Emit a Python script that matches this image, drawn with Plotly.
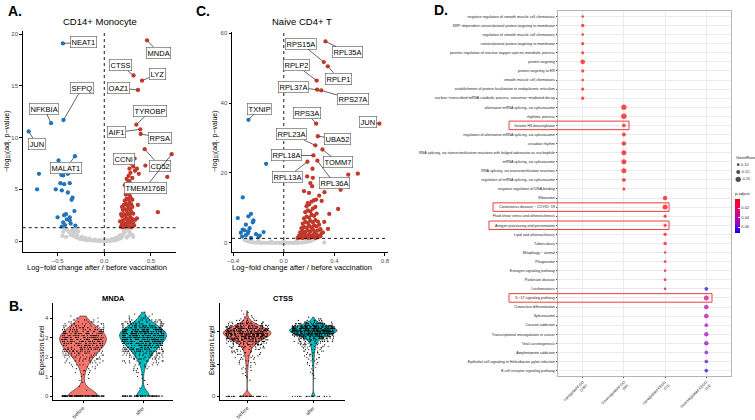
import numpy as np
import plotly.graph_objects as go

W, H = 755, 420
FONT = "Liberation Sans, Arial, sans-serif"
RED, BLUE, GREY = "#C0392B", "#1F74BA", "#CFCFCF"

# ---------------- A. CD14+ Monocyte (log-fold change, -log10 adj p) ----------------
a_grey = [(-0.30, 0.35), (-0.27, 0.25), (-0.25, 0.2), (-0.22, 0.15), (-0.2, 0.12), (-0.18, 0.1),
          (-0.15, 0.08), (-0.12, 0.05), (-0.1, 0.04), (-0.07, 0.03), (-0.05, 0.02), (-0.03, 0.01),
          (0.0, 0.0), (0.02, 0.01), (0.05, 0.02), (0.07, 0.04), (0.1, 0.06), (0.12, 0.1),
          (0.14, 0.15), (0.16, 0.22), (0.18, 0.3), (-0.33, 0.5), (-0.34, 0.7), (-0.32, 0.85),
          (-0.35, 1.0), (-0.33, 1.15), (-0.31, 1.25), (-0.36, 0.6), (-0.38, 0.9), (-0.4, 1.1),
          (-0.42, 1.2), (-0.44, 0.9), (-0.45, 0.5), (-0.41, 0.4), (-0.29, 0.6), (-0.28, 0.95),
          (-0.30, 1.1), (0.19, 0.45), (0.2, 0.65), (0.22, 0.8), (0.21, 1.0), (0.23, 1.2),
          (0.25, 1.1), (0.27, 0.9), (0.29, 1.25), (0.3, 0.6), (0.31, 0.4), (0.26, 0.5),
          (0.24, 0.35), (0.28, 0.7), (0.17, 0.55), (0.2, 1.25), (0.24, 1.28), (-0.24, 0.4),
          (-0.2, 0.3), (-0.16, 0.25), (0.08, 0.2), (0.12, 0.3), (0.15, 0.4), (-0.1, 0.15),
          (0.0, 0.12), (-0.05, 0.1), (0.04, 0.1)]
a_down = [(-0.49, 7.8), (-0.70, 6.5), (-0.72, 5.0), (-0.46, 6.4), (-0.44, 6.35), (-0.39, 6.5),
          (-0.47, 5.6), (-0.43, 5.5), (-0.37, 5.6), (-0.52, 5.0), (-0.455, 4.9), (-0.39, 4.7),
          (-0.34, 4.2), (-0.35, 4.0), (-0.41, 2.6), (-0.43, 2.5), (-0.37, 2.3), (-0.5, 2.3),
          (-0.32, 2.9), (-0.44, 1.8), (-0.37, 2.0), (-0.455, 1.4), (-0.31, 1.5), (-0.40, 2.1),
          (-0.36, 1.7), (-0.42, 1.55)]
a_up = [(0.18, 1.4), (0.2, 1.35), (0.22, 1.4), (0.24, 1.45), (0.26, 1.4), (0.28, 1.38), (0.3, 1.42),
        (0.32, 1.5), (0.19, 1.6), (0.21, 1.7), (0.23, 1.65), (0.25, 1.8), (0.27, 1.75), (0.29, 1.9),
        (0.31, 1.7), (0.2, 2.0), (0.22, 2.1), (0.24, 2.2), (0.26, 2.0), (0.28, 2.3), (0.3, 2.15),
        (0.33, 2.05), (0.19, 2.4), (0.21, 2.6), (0.23, 2.5), (0.25, 2.7), (0.27, 2.55), (0.29, 2.8),
        (0.31, 2.65), (0.2, 3.0), (0.22, 3.1), (0.24, 2.95), (0.26, 3.2), (0.28, 3.05), (0.3, 3.3),
        (0.21, 3.5), (0.23, 3.6), (0.25, 3.45), (0.27, 3.7), (0.29, 3.55), (0.22, 3.9), (0.24, 4.1),
        (0.26, 4.0), (0.28, 4.25), (0.3, 4.0), (0.23, 4.5), (0.25, 4.6), (0.27, 4.45), (0.29, 4.8),
        (0.24, 5.0), (0.26, 5.2), (0.28, 5.05), (0.22, 5.4), (0.25, 5.6), (0.27, 5.8), (0.29, 5.5),
        (0.24, 6.0), (0.26, 6.3), (0.3, 6.1), (0.28, 6.6), (0.33, 6.8), (0.37, 6.5), (0.31, 7.2),
        (0.35, 7.0), (0.27, 7.0), (0.29, 7.5), (0.44, 7.3), (0.675, 6.2), (0.574, 2.8), (0.4, 5.3),
        (0.42, 4.9), (0.36, 3.5), (0.35, 2.2), (0.17, 1.9), (0.18, 2.6), (0.19, 3.3)]
a_genes = ["NEAT1", "SFPQ", "NFKBIA", "JUN", "MALAT1", "MNDA", "CTSS", "LYZ", "OAZ1",
           "TYROBP", "AIF1", "RPSA", "CCNI", "CD52", "TMEM176B"]
a_lfc = [-0.444, -0.437, -0.57, -0.81, -0.314, 0.458, 0.314, 0.404, 0.361, 0.343, 0.386, 0.39,
         0.325, 0.433, 0.722]
a_logp = [19.1, 11.7, 11.4, 10.6, 8.2, 19.4, 16.0, 15.5, 14.6, 11.25, 10.8, 10.35, 7.98, 8.88, 8.4]
# where the repelled label boxes sit (data units)
a_label_pos = [(-0.22, 19.2), (-0.238, 14.8), (-0.643, 12.8), (-0.726, 9.4), (-0.408, 7.1),
               (0.585, 18.2), (0.177, 17.0), (0.567, 16.15), (0.152, 14.8), (0.495, 12.55),
               (0.134, 10.5), (0.596, 10.0), (0.213, 7.9), (0.592, 7.3), (0.44, 5.15)]

# ---------------- C. Naive CD4+ T ----------------
c_grey = [(-0.31, 0.8), (-0.29, 0.5), (-0.27, 0.3), (-0.25, 0.2), (-0.23, 0.1), (-0.21, 0.1),
          (-0.19, 0.05), (-0.17, 0.05), (-0.15, 0.03), (-0.13, 0.02), (-0.11, 0.02), (-0.09, 0.01),
          (-0.07, 0.01), (-0.05, 0.0), (-0.03, 0.0), (-0.01, 0.0), (0.01, 0.0), (0.03, 0.01),
          (0.05, 0.01), (0.07, 0.02), (0.09, 0.03), (0.11, 0.05), (0.13, 0.08), (0.15, 0.1),
          (0.17, 0.2), (0.19, 0.3), (0.21, 0.5), (0.23, 0.8), (0.24, 1.1), (-0.3, 1.1), (-0.2, 0.6),
          (-0.1, 0.4), (0.0, 0.3), (0.1, 0.5), (0.18, 0.9), (-0.26, 0.9), (0.32, 0.1)]
c_down = [(-0.14, 22.6), (-0.325, 13.0), (-0.364, 7.1), (-0.26, 8.3), (-0.28, 7.6), (-0.24, 6.4),
          (-0.245, 5.9), (-0.30, 5.2), (-0.325, 3.8), (-0.31, 3.6), (-0.28, 3.3), (-0.285, 2.7),
          (-0.19, 2.1), (-0.16, 3.1), (-0.34, 2.9), (-0.2, 1.7), (-0.26, 1.4), (-0.30, 2.2),
          (-0.33, 1.8), (-0.27, 4.2), (-0.22, 2.5)]
c_up = [(0.11, 1.4), (0.13, 1.5), (0.15, 1.4), (0.17, 1.6), (0.19, 1.45), (0.21, 1.5), (0.23, 1.7),
        (0.25, 1.4), (0.27, 1.6), (0.12, 2.0), (0.14, 2.2), (0.16, 2.5), (0.18, 2.1), (0.2, 2.4),
        (0.22, 2.0), (0.24, 2.6), (0.26, 2.3), (0.28, 2.1), (0.3, 2.8), (0.13, 3.0), (0.15, 3.4),
        (0.17, 3.1), (0.19, 3.6), (0.21, 3.2), (0.23, 3.8), (0.25, 3.3), (0.27, 3.5), (0.29, 3.9),
        (0.14, 4.2), (0.16, 4.6), (0.18, 4.3), (0.2, 4.9), (0.22, 4.4), (0.24, 5.0), (0.26, 4.7),
        (0.28, 5.2), (0.35, 4.0), (0.15, 5.5), (0.17, 6.0), (0.19, 5.7), (0.21, 6.3), (0.23, 5.9),
        (0.25, 6.5), (0.27, 6.1), (0.16, 7.0), (0.18, 7.5), (0.2, 7.2), (0.22, 8.0), (0.24, 7.7),
        (0.26, 8.4), (0.36, 8.3), (0.17, 8.8), (0.19, 9.3), (0.21, 9.0), (0.23, 9.8), (0.25, 10.3),
        (0.43, 9.7), (0.18, 10.5), (0.2, 11.0), (0.19, 11.4), (0.22, 11.8), (0.24, 12.2),
        (0.256, 12.4), (0.28, 13.5), (0.30, 12.0), (0.2, 14.3), (0.16, 14.8), (0.322, 14.5),
        (0.45, 15.2), (0.224, 16.2), (0.21, 17.1), (0.23, 18.6), (0.185, 19.0), (0.227, 21.2),
        (0.51, 19.5), (0.586, 19.8), (0.14, 1.8), (0.29, 1.9), (0.31, 3.0), (0.32, 6.0)]
c_genes = ["RPS15A", "RPL35A", "RPLP2", "RPLP1", "RPL37A", "RPS27A", "TXNIP", "RPS3A", "JUN",
           "RPL23A", "UBA52", "RPL18A", "TOMM7", "RPL13A", "RPL36A"]
c_lfc = [0.317, 0.33, 0.26, 0.348, 0.264, 0.296, -0.28, 0.256, 0.757, 0.25, 0.27, 0.235, 0.306,
         0.187, 0.266]
c_logp = [51.7, 57.6, 46.4, 50.5, 43.8, 43.6, 35.2, 34.1, 34.1, 27.9, 30.5, 25.0, 26.7, 23.2, 23.5]
c_label_pos = [(0.137, 57.0), (0.507, 54.5), (0.098, 50.8), (0.433, 47.0), (0.077, 44.6),
               (0.546, 41.0), (-0.193, 38.4), (0.182, 37.2), (0.665, 34.6), (0.063, 31.0),
               (0.427, 29.7), (0.018, 25.0), (0.433, 23.1), (0.032, 18.9), (0.40, 17.0)]

# ---------------- B. expression levels (cells per 0.1 bin) ----------------
mnda_levels = [0.0, 0.1, 0.2, 0.3, 0.4, 0.5, 0.6, 0.7, 0.8, 0.9, 1.0, 1.1, 1.2, 1.3, 1.4, 1.5,
               1.6, 1.7, 1.8, 1.9, 2.0, 2.1, 2.2, 2.3, 2.4, 2.5, 2.6, 2.7, 2.8, 2.9, 3.0, 3.1,
               3.2, 3.3, 3.4, 3.5, 3.6, 3.7, 3.8, 3.9, 4.0, 4.1, 4.2, 4.3, 4.4]
mnda_before = [115, 0, 0, 1, 0, 1, 0, 1, 1, 1, 1, 2, 2, 3, 3, 4, 5, 6, 8, 9, 11, 13, 15, 17, 19,
               21, 23, 25, 27, 28, 28, 27, 25, 22, 19, 16, 13, 10, 7, 5, 3, 1, 0, 0, 0]
mnda_after = [75, 0, 0, 0, 1, 0, 1, 0, 1, 1, 1, 1, 2, 2, 3, 4, 5, 7, 9, 11, 13, 16, 19, 22, 25,
              28, 32, 36, 40, 44, 48, 50, 50, 47, 42, 35, 28, 21, 15, 10, 7, 4, 2, 1, 0]
ctss_levels = [0.0, 0.1, 0.2, 0.3, 0.4, 0.5, 0.6, 0.7, 0.8, 0.9, 1.0, 1.1, 1.2, 1.3, 1.4, 1.5,
               1.6, 1.7, 1.8, 1.9, 2.0, 2.1, 2.2, 2.3, 2.4, 2.5, 2.6, 2.7, 2.8, 2.9, 3.0, 3.1,
               3.2, 3.3, 3.4, 3.5, 3.6, 3.7, 3.8, 3.9, 4.0, 4.1, 4.2, 4.3, 4.4, 4.5, 4.6, 4.7,
               4.8, 4.9, 5.0, 5.1, 5.2, 5.3, 5.4]
ctss_before = [40, 0, 0, 0, 0, 0, 0, 0, 0, 0, 1, 0, 1, 1, 1, 1, 1, 2, 2, 2, 2, 3, 3, 3, 4, 4, 5,
               6, 7, 8, 10, 12, 15, 19, 24, 30, 37, 44, 50, 53, 52, 47, 40, 31, 23, 16, 10, 6, 3,
               2, 1, 1, 1, 1, 0]
ctss_after = [20, 0, 0, 0, 0, 0, 0, 0, 0, 0, 0, 1, 0, 1, 1, 1, 1, 1, 1, 2, 2, 2, 2, 3, 3, 3, 4,
              4, 5, 5, 6, 7, 8, 10, 13, 17, 23, 33, 48, 65, 78, 82, 75, 58, 38, 22, 12, 6, 3, 1,
              0, 0, 0, 0, 0]
conditions = ["before", "after"]

# ---------------- D. enrichment dot plot ----------------
col_labels = ["Upregulated GO<br>(150)", "Downregulated GO<br>(50)",
              "Upregulated KEGG<br>(73)", "Downregulated KEGG<br>(14)"]
up_go_terms = ["negative regulation of smooth muscle cell chemotaxis",
               "SRP−dependent cotranslational protein targeting to membrane",
               "regulation of smooth muscle cell chemotaxis",
               "cotranslational protein targeting to membrane",
               "positive regulation of reactive oxygen species metabolic process",
               "protein targeting", "protein targeting to ER", "smooth muscle cell chemotaxis",
               "establishment of protein localization to endoplasmic reticulum",
               "nuclear−transcribed mRNA catabolic process, nonsense−mediated decay"]
up_go_ratio = [0.06, 0.13, 0.06, 0.12, 0.12, 0.18, 0.12, 0.06, 0.12, 0.12]
up_go_padj = [0.004, 0.0005, 0.004, 0.0008, 0.002, 0.0003, 0.0009, 0.005, 0.0009, 0.001]
down_go_terms = ["alternative mRNA splicing, via spliceosome", "rhythmic process",
                 "histone H3 deacetylation",
                 "regulation of alternative mRNA splicing, via spliceosome", "circadian rhythm",
                 "RNA splicing, via transesterification reactions with bulged adenosine as nucleophile",
                 "mRNA splicing, via spliceosome", "RNA splicing, via transesterification reactions",
                 "regulation of mRNA splicing, via spliceosome", "negative regulation of DNA binding"]
down_go_ratio = [0.20, 0.21, 0.14, 0.15, 0.17, 0.19, 0.19, 0.19, 0.15, 0.12]
down_go_padj = [0.002, 0.002, 0.003, 0.003, 0.002, 0.001, 0.001, 0.001, 0.003, 0.004]
up_kegg_terms = ["Ribosome", "Coronavirus disease − COVID−19",
                 "Fluid shear stress and atherosclerosis", "Antigen processing and presentation",
                 "Lipid and atherosclerosis", "Tuberculosis", "Mitophagy − animal", "Phagosome",
                 "Estrogen signaling pathway", "Parkinson disease", "Leishmaniasis"]
up_kegg_ratio = [0.17, 0.19, 0.12, 0.12, 0.13, 0.13, 0.09, 0.11, 0.10, 0.11, 0.05]
up_kegg_padj = [0.001, 0.001, 0.003, 0.004, 0.004, 0.005, 0.009, 0.012, 0.016, 0.018, 0.045]
down_kegg_terms = ["Leishmaniasis", "IL−17 signaling pathway", "Osteoclast differentiation",
                   "Spliceosome", "Cocaine addiction", "Transcriptional misregulation in cancer",
                   "Viral carcinogenesis", "Amphetamine addiction",
                   "Epithelial cell signaling in Helicobacter pylori infection",
                   "B cell receptor signaling pathway"]
down_kegg_ratio = [0.14, 0.19, 0.18, 0.18, 0.14, 0.17, 0.17, 0.14, 0.14, 0.14]
down_kegg_padj = [0.070, 0.032, 0.040, 0.042, 0.052, 0.050, 0.052, 0.055, 0.060, 0.068]
ratio_breaks = [0.10, 0.15, 0.20]
padj_breaks = [0.02, 0.04, 0.06]
highlight_terms = ["histone H3 deacetylation", "Coronavirus disease − COVID−19",
                   "Antigen processing and presentation", "IL−17 signaling pathway"]
highlight_span = [(509, 629), (493, 669), (489, 669), (509, 712)]  # px, label + dot

SIZEREF = 0.038


def px(x):
    return x / W


def py(y):
    return 1 - y / H


def note(text, x, y, size, bold=False, xanchor="center", yanchor="middle", angle=0,
         color="black"):
    return dict(text="<b>%s</b>" % text if bold else text, x=px(x), y=py(y), xref="paper",
                yref="paper", showarrow=False, xanchor=xanchor, yanchor=yanchor,
                textangle=angle, font=dict(size=size, color=color, family=FONT))


def add_volcano(fig, xa, ya, grey, down, up, lfc, logp):
    for pts, col in [(grey, GREY), (down, BLUE), (up, RED)]:
        x, y = zip(*pts)
        fig.add_trace(go.Scatter(x=x, y=y, mode="markers", xaxis=xa, yaxis=ya,
                                 marker=dict(size=4.3, color=col, line=dict(width=0)),
                                 hoverinfo="skip"))
    fig.add_trace(go.Scatter(x=lfc, y=logp, mode="markers", xaxis=xa, yaxis=ya,
                             marker=dict(size=4.3, line=dict(width=0),
                                         color=[RED if v > 0 else BLUE for v in lfc]),
                             hoverinfo="skip"))


def gene_labels(xa, ya, genes, lfc, logp, pos):
    out = []
    for g, x, y, (lx, ly) in zip(genes, lfc, logp, pos):
        out.append(dict(x=x, y=y, xref=xa, yref=ya, ax=lx, ay=ly, axref=xa, ayref=ya, text=g,
                        showarrow=True, arrowhead=0, arrowwidth=0.7, arrowcolor="#222",
                        standoff=1.5, font=dict(size=7.5, color="black", family=FONT),
                        bgcolor="white", bordercolor="#555", borderwidth=0.6, borderpad=1))
    return out


def thresholds(xa, ya):
    dot = dict(color="black", width=0.9, dash="dot")
    return [dict(type="line", xref=xa + " domain", x0=0, x1=1, yref=ya, y0=1.3, y1=1.3, line=dot),
            dict(type="line", xref=xa, x0=0, x1=0, yref=ya + " domain", y0=0, y1=1, line=dot)]


fig = go.Figure()

add_volcano(fig, "x", "y", a_grey, a_down, a_up, a_lfc, a_logp)
add_volcano(fig, "x2", "y2", c_grey, c_down, c_up, c_lfc, c_logp)

# violins (per-condition kernel bandwidth)
violins = [("x3", "y3", mnda_levels, (mnda_before, mnda_after), (0.3, 0.25), 0.78),
           ("x4", "y4", ctss_levels, (ctss_before, ctss_after), (0.17, 0.15), 0.72)]
for xa, ya, levels, counts, bws, width in violins:
    for cond, cnt, bw, col in zip(conditions, counts, bws, ["#F8766D", "#00BFC4"]):
        vals = np.repeat(levels, cnt)
        fig.add_trace(go.Violin(x=[cond] * len(vals), y=vals, xaxis=xa, yaxis=ya,
                                fillcolor=col, line=dict(color="black", width=0.5), opacity=1,
                                points="all", pointpos=0, jitter=0.9,
                                marker=dict(size=1.2, color="black", line=dict(width=0)),
                                spanmode="hard", bandwidth=bw, width=width, scalemode="width",
                                hoverinfo="skip"))

# dot plot
groups = [(up_go_terms, up_go_ratio, up_go_padj), (down_go_terms, down_go_ratio, down_go_padj),
          (up_kegg_terms, up_kegg_ratio, up_kegg_padj), (down_kegg_terms, down_kegg_ratio, down_kegg_padj)]
d_x, d_y, d_r, d_p = [], [], [], []
for col, (terms, ratio, padj) in zip(col_labels, groups):
    d_x += [col] * len(terms)
    d_y += terms
    d_r += ratio
    d_p += padj
term_order = []
for t in d_y:
    if t not in term_order:
        term_order.append(t)

scale = [[0, "#0000FF"], [0.25, "#8F00D0"], [0.5, "#C7009F"], [0.75, "#EE0060"], [1, "#FF0000"]]
fig.add_trace(go.Scatter(
    x=d_x, y=d_y, mode="markers", xaxis="x5", yaxis="y5", hoverinfo="skip",
    marker=dict(size=d_r, sizemode="diameter", sizeref=SIZEREF, sizemin=1.3, line=dict(width=0),
                color=[-p for p in d_p], colorscale=scale, cmin=-0.0726, cmax=-0.001,
                colorbar=dict(x=px(735), xanchor="left", y=py(189), yanchor="top",
                              len=44, lenmode="pixels", thickness=5, xpad=0, ypad=0,
                              outlinewidth=0, ticks="inside", ticklen=2, tickcolor="white",
                              tickvals=[-b for b in padj_breaks],
                              ticktext=["%.2f" % b for b in padj_breaks],
                              tickfont=dict(size=4, color="#333", family=FONT),
                              title=dict(text="p.adjust", side="top",
                                         font=dict(size=4.2, color="#222", family=FONT))))))

# size legend
fig.add_trace(go.Scatter(
    x=[0.2] * len(ratio_breaks), y=["%.2f" % b for b in ratio_breaks], mode="markers+text",
    xaxis="x6", yaxis="y6", text=["%.2f" % b for b in ratio_breaks], textposition="middle right",
    textfont=dict(size=4, color="#333", family=FONT), hoverinfo="skip",
    marker=dict(size=[b / SIZEREF for b in ratio_breaks], color="black", line=dict(width=0))))

axis = dict(showline=True, linecolor="black", linewidth=1, ticks="outside", ticklen=2.5,
            tickwidth=0.8, tickcolor="black", showgrid=False, zeroline=False, automargin=False,
            tickfont=dict(size=6, color="#4D4D4D", family=FONT))
d_axis = dict(showline=True, linecolor="#B5B5B5", linewidth=0.8, mirror=True, ticks="outside",
              ticklen=1.5, tickwidth=0.5, tickcolor="#444", showgrid=True, gridcolor="#EBEBEB",
              gridwidth=0.5, zeroline=False, automargin=False, type="category",
              tickfont=dict(size=3.7, color="#222", family=FONT))
b_ticks = dict(size=5.2, color="#333", family=FONT)

fig.update_layout(
    width=W, height=H, margin=dict(l=0, r=0, t=0, b=0), template="none",
    paper_bgcolor="white", plot_bgcolor="white", showlegend=False, violinmode="overlay",
    font=dict(family=FONT),
    xaxis=dict(axis, domain=[px(22.7), px(175.5)], range=[-0.874, 0.763], anchor="y",
               tickvals=[-0.5, 0, 0.5], ticktext=["−0.5", "0.0", "0.5"]),
    yaxis=dict(axis, domain=[py(252), py(31)], range=[-1.05, 20.3], anchor="x",
               tickvals=[0, 5, 10, 15, 20]),
    xaxis2=dict(axis, domain=[px(232), px(388)], range=[-0.41, 0.825], anchor="y2",
                tickvals=[-0.4, 0, 0.4, 0.8], ticktext=["−0.4", "0.0", "0.4", "0.8"]),
    yaxis2=dict(axis, domain=[py(252), py(32)], range=[-2.6, 60.3], anchor="x2",
                tickvals=[0, 20, 40, 60]),
    xaxis3=dict(axis, domain=[px(53), px(173)], range=[-0.5, 1.5], anchor="y3", type="category",
                categoryorder="array", categoryarray=conditions, tickangle=-45, ticklen=2,
                tickfont=b_ticks),
    yaxis3=dict(axis, domain=[py(400), py(303)], range=[-0.205, 4.77], anchor="x3",
                tickvals=[0, 1, 2, 3, 4]),
    xaxis4=dict(axis, domain=[px(220), px(345)], range=[-0.41, 1.48], anchor="y4", type="category",
                categoryorder="array", categoryarray=conditions, tickangle=-45, ticklen=2,
                tickfont=b_ticks),
    yaxis4=dict(axis, domain=[py(400), py(303)], range=[-0.23, 5.78], anchor="x4",
                tickvals=[0, 2, 4]),
    xaxis5=dict(d_axis, domain=[px(558), px(731)], range=[-0.6, 3.6], anchor="y5",
                categoryorder="array", categoryarray=col_labels, tickangle=-45),
    yaxis5=dict(d_axis, domain=[py(376), py(11)], range=[len(term_order) - 0.4, -0.6],
                anchor="x5", categoryorder="array", categoryarray=term_order),
    xaxis6=dict(domain=[px(734), px(755)], range=[0, 1], visible=False, anchor="y6"),
    yaxis6=dict(domain=[py(183), py(161)], range=[2.5, -0.5], visible=False, anchor="x6",
                type="category"),
)

shapes = thresholds("x", "y") + thresholds("x2", "y2")
for term, (x0, x1) in zip(highlight_terms, highlight_span):
    i = term_order.index(term)
    shapes.append(dict(type="rect", xref="paper", x0=px(x0), x1=px(x1), yref="y5",
                       y0=i - 0.47, y1=i + 0.47, line=dict(color="#F03C3C", width=1)))
fig.update_layout(shapes=shapes)

ann = gene_labels("x", "y", a_genes, a_lfc, a_logp, a_label_pos)
ann += gene_labels("x2", "y2", c_genes, c_lfc, c_logp, c_label_pos)
ann += [
    note("A.", 6, 11, 14, bold=True, xanchor="left"),
    note("C.", 194, 11, 14, bold=True, xanchor="left"),
    note("B.", 7, 306, 14, bold=True, xanchor="left"),
    note("D.", 432, 10, 14, bold=True, xanchor="left"),
    note("CD14+ Monocyte", 100, 21, 9.5),
    note("Naive CD4+ T", 302, 21, 9.5),
    note("Log−fold change after / before vaccination", 97, 267, 7.5),
    note("Log−fold change after / before vaccination", 302, 267, 7.5),
    note("−log<sub>10</sub>(adj. p−value)", 7, 141, 7, angle=-90),
    note("−log<sub>10</sub>(adj. p−value)", 215, 141, 7, angle=-90),
    note("MNDA", 113, 298, 7.5, bold=True),
    note("CTSS", 283, 298, 7.5, bold=True),
    note("Expression Level", 42, 350, 6.5, angle=-90),
    note("Expression Level", 212, 350, 6.5, angle=-90),
    note("GeneRatio", 734, 157, 4.2, xanchor="left", color="#222"),
]
fig.update_layout(annotations=ann)

# the page body has a default 8px margin; drop it so the figure sits at the window origin
fig.write_html("out.html", config={"displayModeBar": False},
               post_script="document.body.style.margin='0';")
